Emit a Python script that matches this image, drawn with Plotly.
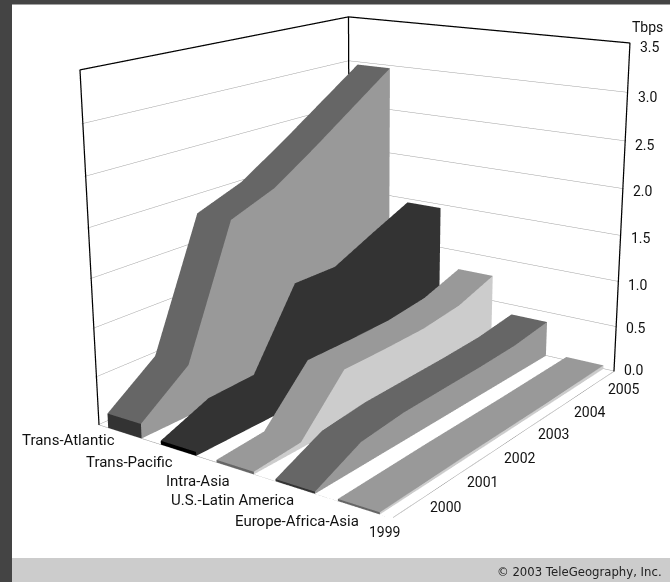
import plotly.graph_objects as go

# Capacity by route, Tbps
years = [1999, 2000, 2001, 2002, 2003, 2004, 2005]
routes = ["Trans-Atlantic", "Trans-Pacific", "Intra-Asia", "U.S.-Latin America", "Europe-Africa-Asia"]
trans_atlantic = [0.15, 0.53, 1.85, 2.03, 2.33, 2.65, 2.97]
trans_pacific = [0.04, 0.24, 0.26, 1.05, 1.05, 1.26, 1.46]
intra_asia = [0.025, 0.06, 0.57, 0.57, 0.58, 0.64, 0.79]
us_latin_america = [0.02, 0.24, 0.29, 0.30, 0.31, 0.33, 0.39]
europe_africa_asia = [0.02, 0.025, 0.03, 0.03, 0.03, 0.035, 0.04]
series = [trans_atlantic, trans_pacific, intra_asia, us_latin_america, europe_africa_asia]
z_ticks = [0.0, 0.5, 1.0, 1.5, 2.0, 2.5, 3.0, 3.5]

# (top, side, front) shade of every ribbon
shades = [
    ("#666666", "#999999", "#333333"),
    ("#333333", "#333333", "#000000"),
    ("#999999", "#cccccc", "#666666"),
    ("#666666", "#999999", "#333333"),
    ("#999999", "#cccccc", "#666666"),
]

HALF_DEPTH = 0.32
# Extent of the drawn box
x0, x1 = -0.5, 4.5
y0, y1 = 1999, 2005
z1 = 3.5
# The axes reach slightly past the box so nothing sits on the clip planes
PAD_X, PAD_Y, PAD_Z = 0.01, 0.012, 0.007

# The scene needs a long lens, so the figure is larger than the window and
# is offset inside it (see the page script at the bottom).
FIG_SIZE = 1254
OFFSET_X = 299
OFFSET_Y = 385


def page_x(px):
    return (px + OFFSET_X) / FIG_SIZE


def page_y(py):
    return 1 - (py + OFFSET_Y) / FIG_SIZE


FLAT = dict(ambient=1, diffuse=0, specular=0, fresnel=0, roughness=1)


def strip_mesh(x_a, x_b, ys, z_a, z_b, color):
    """Quad strip between two polylines running along the year axis."""
    n = len(ys)
    xs = [x_a] * n + [x_b] * n
    yy = list(ys) + list(ys)
    zs = list(z_a) + list(z_b)
    i, j, k = [], [], []
    for q in range(n - 1):
        i += [q, q]
        j += [q + 1, q + n + 1]
        k += [q + n + 1, q + n]
    return go.Mesh3d(x=xs, y=yy, z=zs, i=i, j=j, k=k, color=color, flatshading=True,
                     lighting=FLAT, hoverinfo="skip", showscale=False)


def front_mesh(x_a, x_b, year, height, color):
    return go.Mesh3d(x=[x_a, x_b, x_b, x_a], y=[year] * 4, z=[0, 0, height, height],
                     i=[0, 0], j=[1, 2], k=[2, 3], color=color, flatshading=True,
                     lighting=FLAT, hoverinfo="skip", showscale=False)


fig = go.Figure()

for slot, (values, (top, side, front)) in enumerate(zip(series, shades)):
    left, right = slot - HALF_DEPTH, slot + HALF_DEPTH
    fig.add_trace(strip_mesh(left, right, years, values, values, top))
    fig.add_trace(strip_mesh(right, right, years, [0] * len(years), values, side))
    fig.add_trace(front_mesh(left, right, years[0], values[0], front))

# Heavy outline of the two back walls
fig.add_trace(go.Scatter3d(
    x=[x0, x0, None, x0, x0, None, x1, x1, None, x0, x0, x1],
    y=[y0, y0, None, y1, y1, None, y1, y1, None, y0, y1, y1],
    z=[0, z1, None, 0, z1, None, 0, z1, None, z1, z1, z1],
    mode="lines", line=dict(color="#000000", width=2.5), hoverinfo="skip",
))
# Thin outline of the floor
fig.add_trace(go.Scatter3d(
    x=[x0, x1, x1], y=[y0, y0, y1], z=[0, 0, 0],
    mode="lines", line=dict(color="#999999", width=1), hoverinfo="skip",
))

NAME_FONT = dict(family="Roboto, Liberation Sans, sans-serif", size=15, color="#111111")
NUMBER_FONT = dict(family="Roboto, Liberation Sans, sans-serif", size=14, color="#111111")
notes = []

route_shift = [(-8, -7), (-3, -11.5), (-3, -12.5), (1, -12.5), (2, -13)]
for slot, (name, (dx, dy)) in enumerate(zip(routes, route_shift)):
    notes.append(dict(x=slot, y=y0, z=0, text=name, showarrow=False, xanchor="right",
                      yanchor="middle", xshift=dx, yshift=dy, font=NAME_FONT))

year_shift = [(-7, -13.5), (10, -18), (5, -20), (5, -21), (3, -21), (7, -20), (10, -18)]
for year, (dx, dy) in zip(years, year_shift):
    notes.append(dict(x=x1, y=year, z=0, text=str(year), showarrow=False, xanchor="center",
                      yanchor="middle", xshift=dx, yshift=dy, font=NUMBER_FONT))

tick_shift = [1.5, -1.5, -3.5, -2.5, -2.5, -3.5, -4.5, -4.5]
for tick, dy in zip(z_ticks, tick_shift):
    notes.append(dict(x=x1, y=y1, z=tick, text=f"{tick:.1f}", showarrow=False, xanchor="left",
                      yanchor="middle", xshift=8, yshift=dy, font=NUMBER_FONT))
notes.append(dict(x=x1, y=y1, z=z1, text="Tbps", showarrow=False, xanchor="left",
                  yanchor="middle", xshift=0, yshift=16, font=NUMBER_FONT))

plain_axis = dict(showgrid=False, zeroline=False, showline=False, showticklabels=False,
                  ticks="", showbackground=False, showspikes=False, title="")

fig.update_layout(
    width=FIG_SIZE, height=FIG_SIZE, autosize=False,
    margin=dict(l=0, r=0, t=0, b=0, pad=0),
    paper_bgcolor="#ffffff", showlegend=False,
    scene=dict(
        bgcolor="rgba(0,0,0,0)",
        xaxis=dict(plain_axis, range=[x0 - PAD_X, x1 + PAD_X]),
        yaxis=dict(plain_axis, range=[y0 - PAD_Y, y1 + PAD_Y]),
        zaxis=dict(plain_axis, range=[-PAD_Z, z1 + PAD_Z], showgrid=True, gridcolor="#a0a0a0",
                   gridwidth=1, tick0=0, dtick=0.5),
        aspectmode="manual",
        aspectratio=dict(x=0.883 * (1 + 2 * PAD_X / 5), y=1.077 * (1 + 2 * PAD_Y / 6),
                         z=0.895 * (1 + 2 * PAD_Z / 3.5)),
        camera=dict(
            eye=dict(x=2.106, y=-3.016, z=1.0475),
            center=dict(x=-0.0757, y=-0.0643, z=-0.0235),
            up=dict(x=-0.1605, y=0.23, z=0.9599),
            projection=dict(type="perspective"),
        ),
        annotations=notes,
    ),
    shapes=[
        dict(type="rect", xref="paper", yref="paper", x0=page_x(0), x1=page_x(670),
             y0=page_y(558), y1=page_y(582), fillcolor="#cccccc", line_width=0, layer="below"),
        dict(type="rect", xref="paper", yref="paper", x0=page_x(0), x1=page_x(12),
             y0=page_y(0), y1=page_y(582), fillcolor="#444444", line_width=0, layer="below"),
        dict(type="rect", xref="paper", yref="paper", x0=page_x(0), x1=page_x(670),
             y0=page_y(0), y1=page_y(4.5), fillcolor="#444444", line_width=0, layer="below"),
    ],
    annotations=[
        dict(xref="paper", yref="paper", x=page_x(664), y=page_y(572), text="© 2003 TeleGeography, Inc.",
             showarrow=False, xanchor="right", yanchor="middle",
             font=dict(family="DejaVu Sans", size=11.7, color="#222222")),
    ],
)

# Crop the oversized figure to the window
crop = (
    "var gd=document.getElementById('{plot_id}');"
    "gd.style.position='absolute';"
    f"gd.style.left='-{OFFSET_X}px';gd.style.top='-{OFFSET_Y}px';"
    "document.documentElement.style.overflow='hidden';"
    "document.body.style.overflow='hidden';"
)

fig.write_html("out.html", post_script=crop, config=dict(displayModeBar=False))
